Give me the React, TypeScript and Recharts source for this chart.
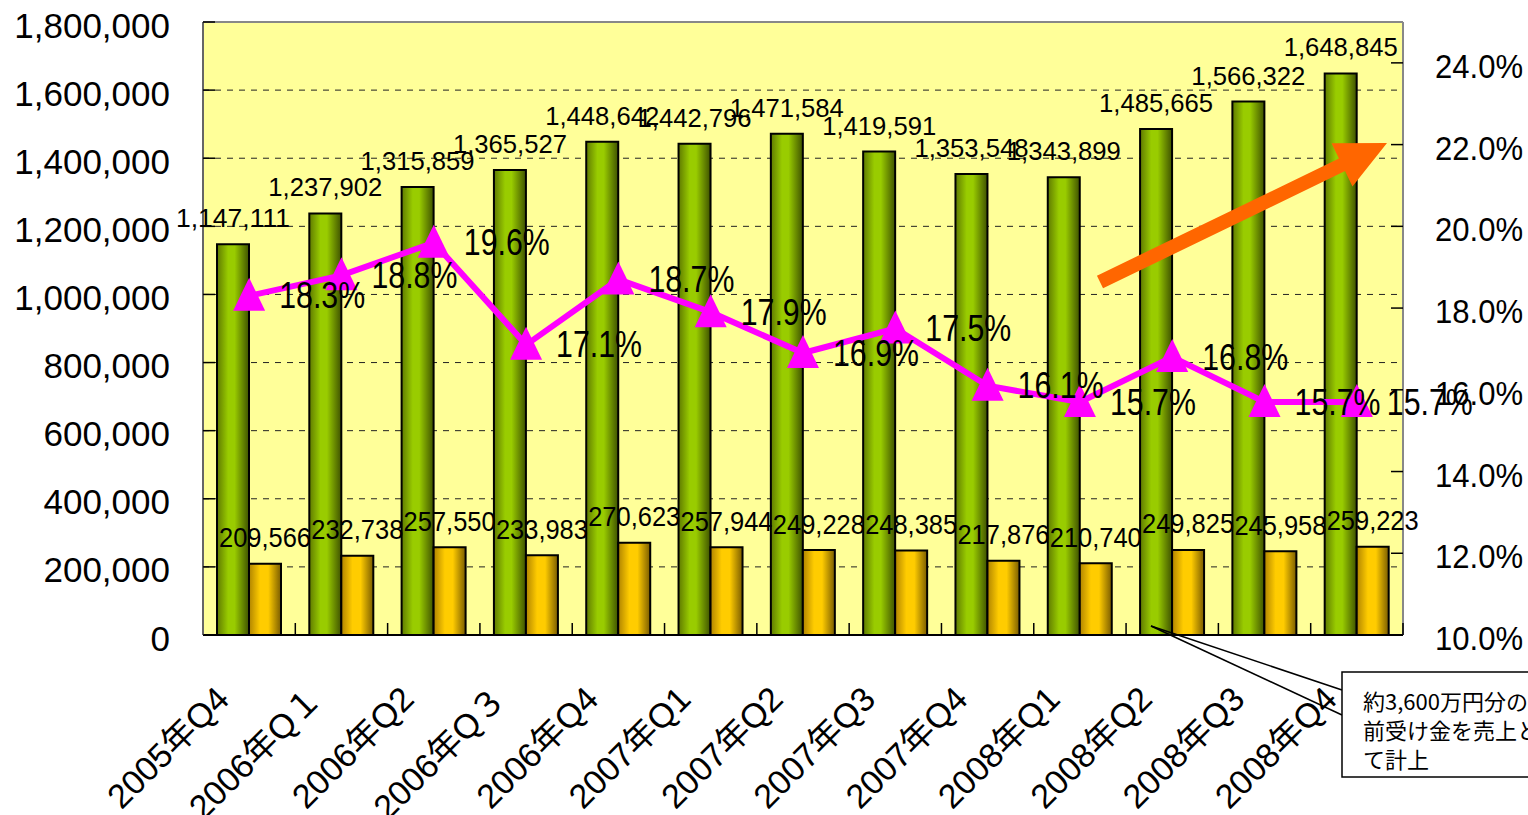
import { ComposedChart, Bar, Line, XAxis, YAxis, CartesianGrid, LabelList, ReferenceLine } from "recharts";

// 四半期
const quarters = [
  "2005年Q4", "2006年Q１", "2006年Q2", "2006年Q３", "2006年Q4",
  "2007年Q1", "2007年Q2", "2007年Q3", "2007年Q4",
  "2008年Q1", "2008年Q2", "2008年Q3", "2008年Q4",
];
// 売上高
const sales = [1147111, 1237902, 1315859, 1365527, 1448642, 1442796, 1471584, 1419591, 1353548, 1343899, 1485665, 1566322, 1648845];
// 利益
const profit = [209566, 232738, 257550, 233983, 270623, 257944, 249228, 248385, 217876, 210740, 249825, 245958, 259223];
// 利益率 (%)
const ratio = [18.3, 18.8, 19.6, 17.1, 18.7, 17.9, 16.9, 17.5, 16.1, 15.7, 16.8, 15.7, 15.7];

const leftTicks = [0, 200000, 400000, 600000, 800000, 1000000, 1200000, 1400000, 1600000, 1800000];
const rightTicks = [10, 12, 14, 16, 18, 20, 22, 24];

const noteLines = ["約3,600万円分の", "前受け金を売上とし", "て計上"];

const W = 1528;
const H = 815;
const PLOT_L = 203;
const PLOT_R = 1403;
const PLOT_T = 22;
const PLOT_B = 635;
const BAND = (PLOT_R - PLOT_L) / quarters.length;

const SANS = "'Liberation Sans', Arial, 'Noto Sans CJK JP', sans-serif";
const JP = "'Noto Sans CJK JP', sans-serif";

const data = quarters.map((q, i) => ({ q, sales: sales[i], profit: profit[i], ratio: ratio[i] }));

const num = (v: number) => v.toLocaleString("en-US");

function LeftTick(props: any) {
  const { x, y, payload } = props;
  return (
    <g>
      <line x1={PLOT_L} x2={PLOT_L + 12} y1={y} y2={y} stroke="#000" strokeWidth={1.5} />
      <text x={x} y={y} dy={3} textAnchor="end" dominantBaseline="central" fontFamily={SANS} fontSize={35} fill="#000">
        {num(payload.value)}
      </text>
    </g>
  );
}

function RightTick(props: any) {
  const { x, y, payload } = props;
  return (
    <g>
      <line x1={PLOT_R - 12} x2={PLOT_R} y1={y} y2={y} stroke="#000" strokeWidth={1.5} />
      <text
        x={x}
        y={y}
        dy={3}
        textAnchor="start"
        dominantBaseline="central"
        fontFamily={SANS}
        fontSize={34}
        textLength={88}
        lengthAdjust="spacingAndGlyphs"
        fill="#000"
      >
        {payload.value.toFixed(1)}%
      </text>
    </g>
  );
}

function XTick(props: any) {
  const { x, payload } = props;
  return (
    <g>
      <line x1={x + BAND / 2} x2={x + BAND / 2} y1={PLOT_B} y2={PLOT_B - 12} stroke="#000" strokeWidth={1.5} />
      <text
        transform={`translate(${x - 18},${PLOT_B + 66}) rotate(-45)`}
        textAnchor="end"
        fontFamily={SANS}
        fontSize={34}
        fill="#000"
      >
        {payload.value}
      </text>
    </g>
  );
}

function Triangle(props: any) {
  const { cx, cy, index } = props;
  if (cx == null || cy == null) return null;
  return (
    <polygon
      key={`tri-${index}`}
      points={`${cx},${cy - 18} ${cx + 16},${cy + 15} ${cx - 16},${cy + 15}`}
      fill="#FF00FF"
    />
  );
}

function SalesLabel(props: any) {
  const { x, y, width, value } = props;
  return (
    <text
      x={x + width / 2}
      y={y - 26}
      textAnchor="middle"
      dominantBaseline="central"
      fontFamily={SANS}
      fontSize={25}
      textLength={114}
      lengthAdjust="spacingAndGlyphs"
      fill="#000"
    >
      {num(value)}
    </text>
  );
}

function ProfitLabel(props: any) {
  const { x, y, width, value } = props;
  return (
    <text
      x={x + width / 2}
      y={y - 26}
      textAnchor="middle"
      dominantBaseline="central"
      fontFamily={SANS}
      fontSize={28}
      textLength={92}
      lengthAdjust="spacingAndGlyphs"
      fill="#000"
    >
      {num(value)}
    </text>
  );
}

function RatioLabel(props: any) {
  const { x, y, value } = props;
  return (
    <text
      x={x + 73}
      y={y}
      textAnchor="middle"
      dominantBaseline="central"
      fontFamily={SANS}
      fontSize={37}
      textLength={86}
      lengthAdjust="spacingAndGlyphs"
      fill="#000"
    >
      {Number(value).toFixed(1)}%
    </text>
  );
}

// 右肩上がりの矢印
function Arrow() {
  const tail = [1100, 282];
  const tip = [1387, 143];
  const dx = tip[0] - tail[0];
  const dy = tip[1] - tail[1];
  const len = Math.hypot(dx, dy);
  const u = [dx / len, dy / len];
  const n = [-u[1], u[0]];
  const head = 50;
  const b = [tip[0] - head * u[0], tip[1] - head * u[1]];
  const p = (o: number[], w: number) => `${o[0] + w * n[0]},${o[1] + w * n[1]}`;
  const pts = [p(tail, 7), p(b, 7), p(b, 24), `${tip[0]},${tip[1]}`, p(b, -24), p(b, -7), p(tail, -7)].join(" ");
  return <polygon points={pts} fill="#FF6600" />;
}

export default function App() {
  return (
    <div style={{ position: "absolute", left: 0, top: 0, width: W, height: H, background: "#fff", overflow: "hidden" }}>
      <ComposedChart width={W} height={H} data={data} margin={{ top: PLOT_T, right: 0, left: 0, bottom: 0 }} barGap={0}>
        <defs>
          <linearGradient id="gGreen" x1="0" y1="0" x2="1" y2="0">
            <stop offset="0%" stopColor="#5f7a00" />
            <stop offset="35%" stopColor="#99cc00" />
            <stop offset="55%" stopColor="#99cc00" />
            <stop offset="100%" stopColor="#3f5200" />
          </linearGradient>
          <linearGradient id="gYellow" x1="0" y1="0" x2="1" y2="0">
            <stop offset="0%" stopColor="#b08400" />
            <stop offset="35%" stopColor="#ffcc00" />
            <stop offset="60%" stopColor="#ffcc00" />
            <stop offset="100%" stopColor="#7a5c00" />
          </linearGradient>
        </defs>
        <CartesianGrid yAxisId="left" vertical={false} stroke="#222" strokeDasharray="6 6" fill="#FFFF99" fillOpacity={1} />
        <XAxis
          dataKey="q"
          height={H - PLOT_B}
          interval={0}
          tick={<XTick />}
          tickLine={false}
          axisLine={{ stroke: "#000", strokeWidth: 2 }}
        />
        <YAxis
          yAxisId="left"
          orientation="left"
          width={PLOT_L}
          domain={[0, 1800000]}
          ticks={leftTicks}
          tick={<LeftTick />}
          tickSize={0}
          tickMargin={33}
          tickLine={false}
          axisLine={{ stroke: "#666", strokeWidth: 2 }}
        />
        <YAxis
          yAxisId="right"
          orientation="right"
          width={W - PLOT_R}
          domain={[10, 25]}
          ticks={rightTicks}
          tick={<RightTick />}
          tickSize={0}
          tickMargin={32}
          tickLine={false}
          axisLine={{ stroke: "#888", strokeWidth: 2 }}
        />
        <ReferenceLine yAxisId="left" y={1800000} stroke="#888" strokeWidth={2} />
        <Bar yAxisId="left" dataKey="sales" fill="url(#gGreen)" stroke="#000" strokeWidth={2} barSize={32} isAnimationActive={false}>
          <LabelList dataKey="sales" content={<SalesLabel />} />
        </Bar>
        <Bar yAxisId="left" dataKey="profit" fill="url(#gYellow)" stroke="#000" strokeWidth={2} barSize={32} isAnimationActive={false}>
          <LabelList dataKey="profit" content={<ProfitLabel />} />
        </Bar>
        <Line
          yAxisId="right"
          type="linear"
          dataKey="ratio"
          stroke="#FF00FF"
          strokeWidth={6}
          dot={(p: any) => <Triangle {...p} />}
          activeDot={false}
          isAnimationActive={false}
        >
          <LabelList dataKey="ratio" content={<RatioLabel />} />
        </Line>
      </ComposedChart>
      <svg width={W} height={H} style={{ position: "absolute", left: 0, top: 0, pointerEvents: "none" }}>
        <Arrow />
        <line x1={1151} y1={626} x2={1342} y2={690} stroke="#000" strokeWidth={1.5} />
        <line x1={1151} y1={626} x2={1342} y2={715} stroke="#000" strokeWidth={1.5} />
        <rect x={1342} y={672} width={220} height={105} fill="#fff" stroke="#000" strokeWidth={1.5} />
        {noteLines.map((t, i) => (
          <text key={i} x={1363} y={700 + i * 29} dominantBaseline="central" fontFamily={JP} fontSize={22} fill="#000">
            {t}
          </text>
        ))}
      </svg>
    </div>
  );
}
